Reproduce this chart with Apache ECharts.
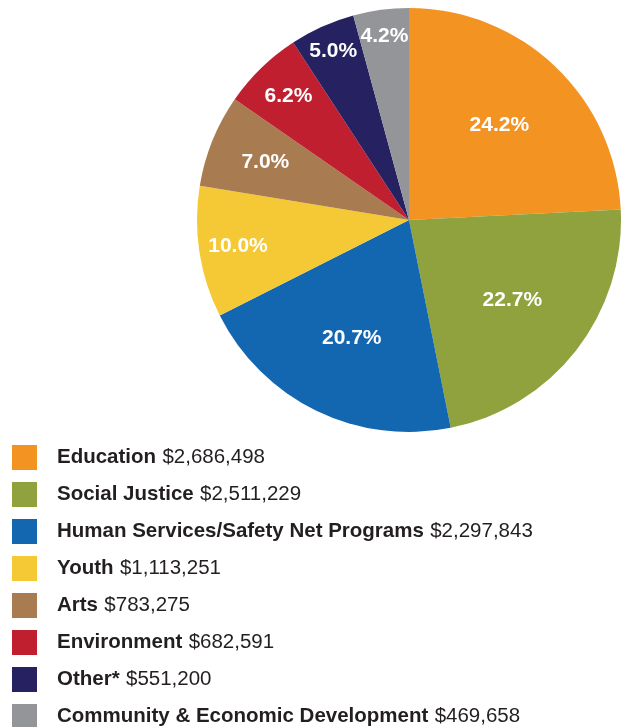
<!DOCTYPE html>
<html>
<head>
<meta charset="utf-8">
<script src="https://cdn.jsdelivr.net/npm/echarts@6/dist/echarts.min.js"></script>
<style>
  html, body { margin: 0; padding: 0; background: #fff; }
  #chart { width: 626px; height: 727px; }
</style>
</head>
<body>
<div id="chart"></div>
<script>
// 类别与金额
const categories = ['Education', 'Social Justice', 'Human Services/Safety Net Programs', 'Youth', 'Arts', 'Environment', 'Other*', 'Community & Economic Development'];
const amounts = [2686498, 2511229, 2297843, 1113251, 783275, 682591, 551200, 469658];
// 图上印的百分比
const pctLabels = ['24.2%', '22.7%', '20.7%', '10.0%', '7.0%', '6.2%', '5.0%', '4.2%'];
const colors = ['#F39322', '#8FA23D', '#1367B1', '#F5C835', '#A87C50', '#C01F2F', '#262262', '#939598'];

const chart = echarts.init(document.getElementById('chart'));

const center = [409, 220];
const R = 212;
const fontFamily = '"Liberation Sans", Arial, Helvetica, sans-serif';

// 标签层：透明扇区，只用来放百分比（标签落在内外半径中间）
function labelLayer(mid, showIdx) {
  return {
    type: 'pie',
    center: center,
    radius: [2 * mid - R, R],
    startAngle: 90,
    silent: true,
    animation: false,
    itemStyle: { color: 'rgba(0,0,0,0)' },
    labelLine: { show: false },
    data: amounts.map((v, i) => ({
      value: v,
      label: {
        show: showIdx.includes(i),
        position: 'inside',
        formatter: () => pctLabels[i],
        color: '#fff',
        fontSize: 21,
        fontWeight: 'bold',
        fontFamily: fontFamily
      }
    }))
  };
}

chart.setOption({
  backgroundColor: '#fff',
  animation: false,
  legend: {
    orient: 'vertical',
    left: 12,
    top: 445,
    height: 300,
    padding: 0,
    itemWidth: 25,
    itemHeight: 25,
    itemGap: 12,
    icon: 'rect',
    selectedMode: false,
    data: categories,
    formatter: name => {
      const i = categories.indexOf(name);
      return '{b|' + name + '} {r|$' + amounts[i].toLocaleString('en-US') + '}';
    },
    textStyle: {
      padding: [0, 0, 0, 15],
      rich: {
        b: { fontSize: 20.5, fontWeight: 'bold', color: '#231F20', fontFamily: fontFamily },
        r: { fontSize: 20.5, color: '#231F20', fontFamily: fontFamily, padding: [0, 0, 0, 3] }
      }
    }
  },
  series: [
    {
      type: 'pie',
      center: center,
      radius: [0, R],
      startAngle: 90,
      clockwise: true,
      label: { show: false },
      labelLine: { show: false },
      itemStyle: { borderWidth: 0 },
      data: categories.map((c, i) => ({
        name: c,
        value: amounts[i],
        itemStyle: { color: colors[i] }
      }))
    },
    labelLayer(128, [0, 1, 2]),
    labelLayer(170, [3, 5]),
    labelLayer(152, [4]),
    labelLayer(182, [6, 7])
  ]
});
</script>
</body>
</html>
